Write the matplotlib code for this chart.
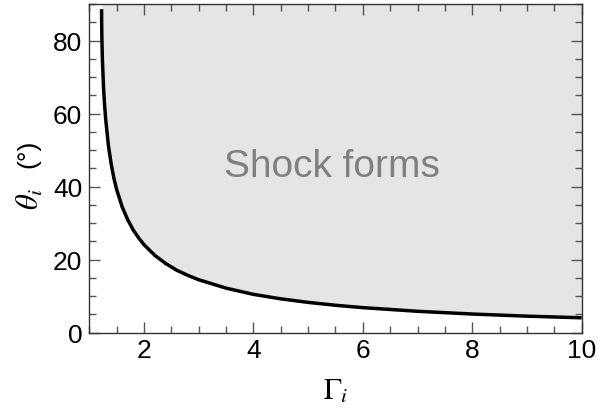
import matplotlib
matplotlib.use("Agg")
import matplotlib.pyplot as plt
from matplotlib.ticker import MultipleLocator

plt.rcParams["font.family"] = ["Liberation Sans", "DejaVu Sans"]
plt.rcParams["mathtext.fontset"] = "stix"

# critical angle curve: above it a shock forms
gamma = [1.2249, 1.226, 1.23, 1.24, 1.26, 1.28, 1.30, 1.35, 1.40, 1.45,
         1.5, 1.6, 1.7, 1.8, 1.9, 2.0, 2.2, 2.4, 2.6, 2.8, 3.0, 3.5,
         4.0, 4.5, 5.0, 5.5, 6.0, 7.0, 8.0, 9.0, 10.0]
theta = [88.6, 85.5, 80.9, 74.6, 67.3, 62.3, 58.4, 51.2, 46.2, 42.3,
         39.2, 34.5, 31.0, 28.2, 26.0, 24.1, 21.15, 18.9, 17.1, 15.7, 14.5, 12.2,
         10.5, 9.27, 8.30, 7.51, 6.86, 5.86, 5.11, 4.53, 4.08]

x_lim = (1, 10)
y_lim = (0, 90)

fig = plt.figure(figsize=(5.98, 4.10), dpi=100)
ax = fig.add_axes([0.1493, 0.1861, 0.8234, 0.8017])

ax.fill_between(gamma, theta, y_lim[1], color="#e5e5e5", linewidth=0)
ax.plot(gamma, theta, color="black", linewidth=2.5, solid_capstyle="butt")
ax.text(5.44, 45.6, "Shock forms", color="#808080", fontsize=28,
        ha="center", va="center")

ax.set_xlim(*x_lim)
ax.set_ylim(*y_lim)
ax.xaxis.set_major_locator(MultipleLocator(2))
ax.xaxis.set_minor_locator(MultipleLocator(0.5))
ax.yaxis.set_major_locator(MultipleLocator(20))
ax.yaxis.set_minor_locator(MultipleLocator(5))

ax.tick_params(which="both", direction="in", top=True, right=True,
               color="#555555", labelsize=19, width=1)
ax.tick_params(which="major", length=8)
ax.tick_params(which="minor", length=4.8)
ax.tick_params(axis="y", pad=5)
ax.tick_params(axis="x", pad=4)

for s in ax.spines.values():
    s.set_color("#333333")
    s.set_linewidth(1)

ax.set_xlabel(r"$\Gamma_i$", fontsize=21.5, labelpad=10)

# y label: symbol and unit drawn separately
fig.text(0.051, 0.488, r"$\theta_i$", fontsize=22, rotation=90,
         ha="center", va="bottom")
fig.text(0.048, 0.6585, "(°)", fontsize=19, rotation=90,
         ha="center", va="top")

fig.savefig("out.png", dpi=100)
